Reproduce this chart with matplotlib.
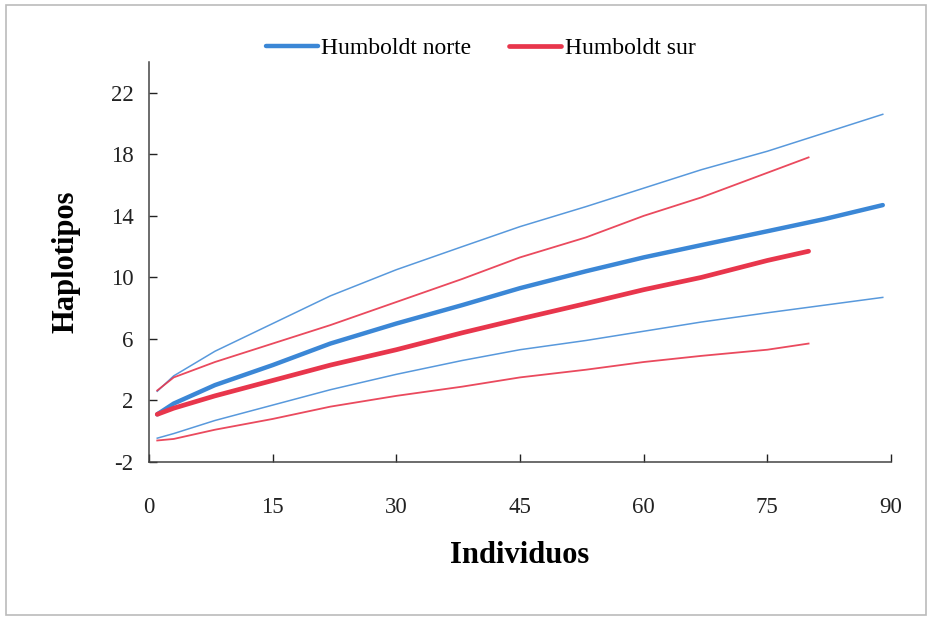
import matplotlib

matplotlib.use("Agg")
import matplotlib.pyplot as plt
from matplotlib.patches import Rectangle

# Rarefaction curves: mean and 95% bounds per population
x_norte = [1, 3, 8, 15, 22, 30, 38, 45, 53, 60, 67, 75, 82, 89]
norte_mean = [1.1, 1.8, 3.0, 4.3, 5.7, 7.0, 8.2, 9.3, 10.4, 11.3, 12.1, 13.0, 13.8, 14.7]
norte_upper = [2.6, 3.6, 5.2, 7.0, 8.8, 10.5, 12.0, 13.3, 14.6, 15.8, 17.0, 18.2, 19.4, 20.6]
norte_lower = [-0.45, -0.15, 0.7, 1.7, 2.7, 3.7, 4.6, 5.3, 5.9, 6.5, 7.1, 7.7, 8.2, 8.7]

x_sur = [1, 3, 8, 15, 22, 30, 38, 45, 53, 60, 67, 75, 80]
sur_mean = [1.1, 1.5, 2.3, 3.3, 4.3, 5.3, 6.4, 7.3, 8.3, 9.2, 10.0, 11.1, 11.7]
sur_upper = [2.65, 3.5, 4.5, 5.7, 6.9, 8.4, 9.9, 11.3, 12.6, 14.0, 15.2, 16.8, 17.8]
sur_lower = [-0.6, -0.5, 0.1, 0.8, 1.6, 2.3, 2.9, 3.5, 4.0, 4.5, 4.9, 5.3, 5.7]

x_ticks = [0, 15, 30, 45, 60, 75, 90]
y_ticks = [-2, 2, 6, 10, 14, 18, 22]

blue = "#3b87d6"
red = "#e8364c"

plt.rcParams["font.family"] = ["Liberation Serif", "DejaVu Serif"]
plt.rcParams["axes.unicode_minus"] = False

fig = plt.figure(figsize=(9.33, 6.2), dpi=100)
ax = fig.add_axes([0.1597, 0.2548, 0.7953, 0.6452])

ax.plot(x_norte, norte_upper, color=blue, lw=1.1, alpha=0.85)
ax.plot(x_norte, norte_lower, color=blue, lw=1.1, alpha=0.85)
ax.plot(x_sur, sur_upper, color=red, lw=1.3, alpha=0.9)
ax.plot(x_sur, sur_lower, color=red, lw=1.3, alpha=0.9)
ax.plot(x_norte, norte_mean, color=blue, lw=3.2, solid_capstyle="round",
        label="Humboldt norte")
ax.plot(x_sur, sur_mean, color=red, lw=3.4, solid_capstyle="round",
        label="Humboldt sur")

ax.set_xlim(0, 90)
ax.set_ylim(-2, 24)
ax.set_xticks(x_ticks)
ax.set_yticks(y_ticks)
ax.tick_params(direction="in", length=6, width=1, labelsize=16.5, colors="#222222")
ax.tick_params(axis="x", pad=25)
ax.tick_params(axis="y", pad=11)

for side in ("top", "right"):
    ax.spines[side].set_visible(False)
for side in ("left", "bottom"):
    ax.spines[side].set_color("#444444")
    ax.spines[side].set_linewidth(1.1)

ax.set_xlabel("Individuos", fontsize=22, fontweight="bold", labelpad=17)
ax.set_ylabel("Haplotipos", fontsize=22, fontweight="bold", labelpad=22)

leg = fig.legend(loc="center", bbox_to_anchor=(0.515, 0.922), ncol=2,
                 frameon=False, fontsize=17, handlelength=2.2,
                 handletextpad=0.15, columnspacing=1.6)

# light frame around the whole chart area
fig.patches.append(Rectangle((0.006, 0.008), 0.986, 0.984, transform=fig.transFigure,
                             fill=False, edgecolor="#bbbbbb", lw=1.2))

fig.savefig("out.png", dpi=100)
